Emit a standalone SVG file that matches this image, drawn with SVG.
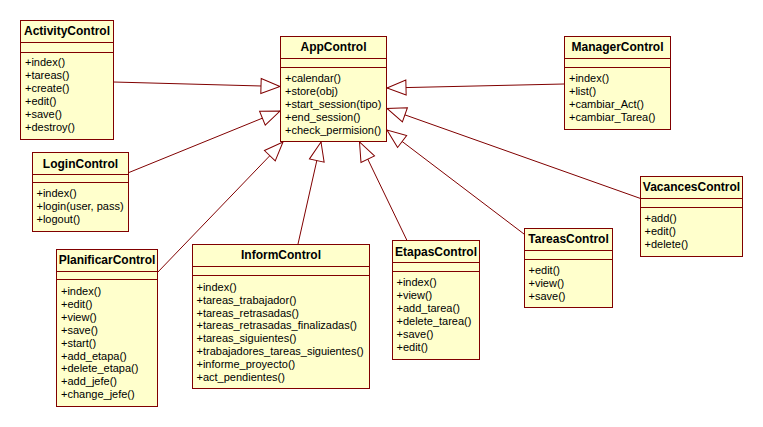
<svg xmlns="http://www.w3.org/2000/svg" width="763" height="427" viewBox="0 0 763 427">
<style>
.box{fill:#ffffcc;stroke:#800000;stroke-width:1}
.sep{stroke:#800000;stroke-width:1}
.title{font-family:"Liberation Sans",Arial,sans-serif;font-size:12px;font-weight:bold;fill:#000;text-anchor:middle}
.ops{font-family:"Liberation Sans",Arial,sans-serif;font-size:11px;fill:#000}
.conn{stroke:#800000;stroke-width:1;fill:none;marker-end:url(#gen)}
</style>
<defs>
<marker id="gen" markerUnits="userSpaceOnUse" markerWidth="20" markerHeight="16" refX="19" refY="7.5" orient="auto" overflow="visible">
<path d="M0,0 L19,7.5 L0,15 Z" fill="#ffffff" stroke="#800000" stroke-width="1"/>
</marker>
</defs>
<rect width="763" height="427" fill="#ffffff"/>
<g id="connectors">
<line class="conn" x1="113.5" y1="82" x2="280" y2="86.5"/>
<line class="conn" x1="128.5" y1="172.7" x2="280" y2="111"/>
<line class="conn" x1="157" y1="273" x2="283" y2="142"/>
<line class="conn" x1="298" y1="244" x2="321" y2="142"/>
<line class="conn" x1="407" y1="240.5" x2="359.5" y2="142"/>
<line class="conn" x1="524" y1="234" x2="387" y2="130"/>
<line class="conn" x1="640" y1="198.3" x2="387" y2="108.5"/>
<line class="conn" x1="564" y1="84" x2="387" y2="88"/>
</g>
<g id="ActivityControl">
<rect class="box" x="20.5" y="20.5" width="93" height="119"/>
<line class="sep" x1="20.5" y1="42.5" x2="113.5" y2="42.5"/>
<line class="sep" x1="20.5" y1="52.5" x2="113.5" y2="52.5"/>
<text class="title" x="67" y="35">ActivityControl</text>
<text class="ops" y="66.3"><tspan x="25">+index()</tspan><tspan x="25" dy="12.9">+tareas()</tspan><tspan x="25" dy="12.9">+create()</tspan><tspan x="25" dy="12.9">+edit()</tspan><tspan x="25" dy="12.9">+save()</tspan><tspan x="25" dy="12.9">+destroy()</tspan></text>
</g>
<g id="AppControl">
<rect class="box" x="280.5" y="36.5" width="106" height="105"/>
<line class="sep" x1="280.5" y1="58.5" x2="386.5" y2="58.5"/>
<line class="sep" x1="280.5" y1="67.5" x2="386.5" y2="67.5"/>
<text class="title" x="333.5" y="51">AppControl</text>
<text class="ops" y="82.3"><tspan x="285">+calendar()</tspan><tspan x="285" dy="12.9">+store(obj)</tspan><tspan x="285" dy="12.9">+start_session(tipo)</tspan><tspan x="285" dy="12.9">+end_session()</tspan><tspan x="285" dy="12.9">+check_permision()</tspan></text>
</g>
<g id="ManagerControl">
<rect class="box" x="564.5" y="36.5" width="106" height="93"/>
<line class="sep" x1="564.5" y1="58.5" x2="670.5" y2="58.5"/>
<line class="sep" x1="564.5" y1="67.5" x2="670.5" y2="67.5"/>
<text class="title" x="617.5" y="51">ManagerControl</text>
<text class="ops" y="82.3"><tspan x="569">+index()</tspan><tspan x="569" dy="12.9">+list()</tspan><tspan x="569" dy="12.9">+cambiar_Act()</tspan><tspan x="569" dy="12.9">+cambiar_Tarea()</tspan></text>
</g>
<g id="LoginControl">
<rect class="box" x="32.5" y="152.5" width="96" height="79"/>
<line class="sep" x1="32.5" y1="174.5" x2="128.5" y2="174.5"/>
<line class="sep" x1="32.5" y1="182.5" x2="128.5" y2="182.5"/>
<text class="title" x="80.5" y="167.5">LoginControl</text>
<text class="ops" y="197.3"><tspan x="36.5">+index()</tspan><tspan x="36.5" dy="12.9">+login(user, pass)</tspan><tspan x="36.5" dy="12.9">+logout()</tspan></text>
</g>
<g id="PlanificarControl">
<rect class="box" x="56.5" y="249.5" width="101" height="157"/>
<line class="sep" x1="56.5" y1="271.5" x2="157.5" y2="271.5"/>
<line class="sep" x1="56.5" y1="279.5" x2="157.5" y2="279.5"/>
<text class="title" x="107" y="264">PlanificarControl</text>
<text class="ops" y="295"><tspan x="61">+index()</tspan><tspan x="61" dy="12.9">+edit()</tspan><tspan x="61" dy="12.9">+view()</tspan><tspan x="61" dy="12.9">+save()</tspan><tspan x="61" dy="12.9">+start()</tspan><tspan x="61" dy="12.9">+add_etapa()</tspan><tspan x="61" dy="12.9">+delete_etapa()</tspan><tspan x="61" dy="12.9">+add_jefe()</tspan><tspan x="61" dy="12.9">+change_jefe()</tspan></text>
</g>
<g id="InformControl">
<rect class="box" x="192.5" y="244.5" width="177" height="144"/>
<line class="sep" x1="192.5" y1="266.5" x2="369.5" y2="266.5"/>
<line class="sep" x1="192.5" y1="275.5" x2="369.5" y2="275.5"/>
<text class="title" x="281" y="259">InformControl</text>
<text class="ops" y="290.7"><tspan x="196.5">+index()</tspan><tspan x="196.5" dy="12.9">+tareas_trabajador()</tspan><tspan x="196.5" dy="12.9">+tareas_retrasadas()</tspan><tspan x="196.5" dy="12.9">+tareas_retrasadas_finalizadas()</tspan><tspan x="196.5" dy="12.9">+tareas_siguientes()</tspan><tspan x="196.5" dy="12.9">+trabajadores_tareas_siguientes()</tspan><tspan x="196.5" dy="12.9">+informe_proyecto()</tspan><tspan x="196.5" dy="12.9">+act_pendientes()</tspan></text>
</g>
<g id="EtapasControl">
<rect class="box" x="392.5" y="240.5" width="87" height="119"/>
<line class="sep" x1="392.5" y1="262.5" x2="479.5" y2="262.5"/>
<line class="sep" x1="392.5" y1="271.5" x2="479.5" y2="271.5"/>
<text class="title" x="436" y="255.7">EtapasControl</text>
<text class="ops" y="286.3"><tspan x="396.5">+index()</tspan><tspan x="396.5" dy="12.9">+view()</tspan><tspan x="396.5" dy="12.9">+add_tarea()</tspan><tspan x="396.5" dy="12.9">+delete_tarea()</tspan><tspan x="396.5" dy="12.9">+save()</tspan><tspan x="396.5" dy="12.9">+edit()</tspan></text>
</g>
<g id="TareasControl">
<rect class="box" x="524.5" y="228.5" width="88" height="79"/>
<line class="sep" x1="524.5" y1="250.5" x2="612.5" y2="250.5"/>
<line class="sep" x1="524.5" y1="259.5" x2="612.5" y2="259.5"/>
<text class="title" x="568.5" y="243.3">TareasControl</text>
<text class="ops" y="274"><tspan x="528.5">+edit()</tspan><tspan x="528.5" dy="12.9">+view()</tspan><tspan x="528.5" dy="12.9">+save()</tspan></text>
</g>
<g id="VacancesControl">
<rect class="box" x="640.5" y="176.5" width="102" height="80"/>
<line class="sep" x1="640.5" y1="198.5" x2="742.5" y2="198.5"/>
<line class="sep" x1="640.5" y1="207.5" x2="742.5" y2="207.5"/>
<text class="title" x="691.5" y="190.7">VacancesControl</text>
<text class="ops" y="222.3"><tspan x="644.5">+add()</tspan><tspan x="644.5" dy="12.9">+edit()</tspan><tspan x="644.5" dy="12.9">+delete()</tspan></text>
</g>
</svg>
